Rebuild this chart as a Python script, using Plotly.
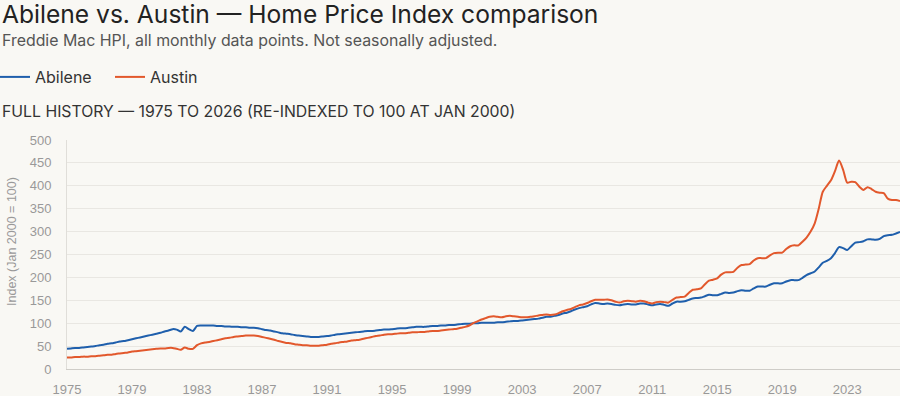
import pandas as pd
import plotly.graph_objects as go

# Quarterly readings (Jan, Apr, Jul, Oct), 1975 Q1 .. 2026 Q2
abilene = [
    44, 45, 46, 46,  47, 48, 49, 50,  52, 53, 55, 56,  58, 60, 61, 63,   # 1975-1978
    65, 67, 69, 71,  73, 75, 77, 79,  82, 84, 87, 86,  82, 92, 87, 83,   # 1979-1982
    94, 95, 95, 95,  95, 94, 94, 93,  93, 92, 92, 91,  91, 90, 90, 89,   # 1983-1986
    87, 85, 84, 82,  80, 78, 77, 76,  74, 73, 72, 71,  70, 70, 70, 71,   # 1987-1990
    72, 73, 75, 76,  77, 78, 79, 80,  81, 82, 83, 83,  84, 85, 86, 86,   # 1991-1994
    87, 88, 89, 89,  90, 91, 92, 92,  92, 93, 94, 94,  95, 95, 96, 96,   # 1995-1998
    97, 98, 99, 99,  100, 100, 101, 101,  101, 101, 102, 102,  103, 104, 105, 105,  # 1999-2002
    106, 107, 108, 109,  110, 112, 114, 114,  116, 118, 121, 123,  126, 130, 133, 135,  # 2003-2006
    137, 141, 144, 143,  142, 143, 142, 140,  139, 141, 142, 141,  141, 143, 143, 141,  # 2007-2010
    139, 141, 142, 140,  138, 143, 147, 147,  148, 151, 154, 155,  156, 159, 162, 161,  # 2011-2014
    161, 164, 167, 166,  167, 170, 172, 171,  171, 176, 180, 180,  180, 184, 187, 187,  # 2015-2018
    187, 191, 194, 194,  194, 199, 205, 209,  213, 222, 232, 236,  242, 253, 266, 264,  # 2019-2022
    260, 268, 276, 277,  279, 283, 283, 282,  284, 290, 292, 293,  296, 299,            # 2023-2026
]
austin = [
    25, 25, 26, 26,  27, 27, 28, 28,  29, 30, 31, 31,  33, 34, 35, 36,   # 1975-1978
    38, 39, 40, 41,  42, 43, 44, 45,  45, 46, 46, 44,  42, 47, 44, 44,   # 1979-1982
    52, 56, 58, 59,  61, 63, 65, 67,  68, 70, 71, 72,  73, 73, 73, 72,   # 1983-1986
    70, 68, 66, 64,  61, 59, 57, 56,  54, 53, 52, 52,  51, 51, 51, 52,   # 1987-1990
    53, 55, 56, 58,  59, 60, 62, 63,  64, 66, 68, 70,  72, 73, 75, 76,   # 1991-1994
    76, 77, 78, 78,  79, 80, 80, 81,  81, 82, 83, 83,  84, 85, 86, 87,   # 1995-1998
    88, 90, 92, 95,  100, 104, 108, 111,  114, 115, 114, 113,  115, 116, 115, 114,  # 1999-2002
    113, 113, 114, 115,  117, 118, 119, 118,  119, 122, 126, 129,  131, 135, 139, 141,  # 2003-2006
    144, 148, 151, 151,  151, 152, 150, 147,  145, 148, 149, 148,  147, 149, 148, 145,  # 2007-2010
    143, 146, 147, 146,  145, 151, 156, 157,  158, 166, 173, 174,  176, 185, 193, 195,  # 2011-2014
    198, 206, 211, 211,  212, 221, 227, 228,  229, 237, 242, 242,  242, 248, 253, 254,  # 2015-2018
    254, 262, 268, 270,  270, 278, 287, 300,  318, 350, 387, 400,  412, 432, 455, 435,  # 2019-2022
    407, 409, 408, 398,  391, 397, 393, 387,  385, 384, 372, 369,  369, 367,            # 2023-2026
]
dates = pd.date_range("1975-01-01", periods=len(abilene), freq="QS")

y_ticks = [0, 50, 100, 150, 200, 250, 300, 350, 400, 450, 500]

title = "Abilene vs. Austin — Home Price Index comparison"
subtitle = "Freddie Mac HPI, all monthly data points. Not seasonally adjusted."
section = "FULL HISTORY — 1975 TO 2026 (RE-INDEXED TO 100 AT JAN 2000)"
y_title = "Index (Jan 2000 = 100)"

BLUE = "#1f5fac"
RED = "#e2582c"
BG = "#f9f8f4"

fig = go.Figure()
fig.add_trace(go.Scatter(x=dates, y=abilene, mode="lines", name="Abilene",
                         line=dict(color=BLUE, width=2, shape="spline", smoothing=0.7)))
fig.add_trace(go.Scatter(x=dates, y=austin, mode="lines", name="Austin",
                         line=dict(color=RED, width=2, shape="spline", smoothing=0.7)))

L, R, T, B = 67, 0, 140, 27
W, H = 900, 396
pw, ph = W - L - R, H - T - B

def px_x(x):
    return (x - L) / pw

def px_y(y):
    return (H - B - y) / ph

fig.update_layout(
    width=W, height=H,
    margin=dict(l=L, r=R, t=T, b=B, autoexpand=False),
    paper_bgcolor=BG, plot_bgcolor=BG,
    font=dict(family="Inter, Liberation Sans, sans-serif", color="#999"),
    showlegend=True,
    legend=dict(orientation="h", x=px_x(-5), xanchor="left", y=px_y(77), yanchor="middle",
                font=dict(size=16, color="#333", family="Inter"), bgcolor="rgba(0,0,0,0)",
                itemwidth=30, entrywidth=70, entrywidthmode="pixels"),
    xaxis=dict(type="date", range=[dates[0], dates[-1]], tick0="1975-01-01", dtick="M48",
               tickformat="%Y", showgrid=False, showline=True, linecolor="#cfcdc8",
               linewidth=1, ticks="", ticklabelstandoff=8, automargin=False,
               tickfont=dict(size=13, color="#999", family="Liberation Sans")),
    yaxis=dict(range=[0, 500], tickvals=y_ticks, showgrid=True, gridcolor="#e9e7e2",
               gridwidth=1, zeroline=False, showline=True, linecolor="#e0ded9",
               ticks="", ticklabelstandoff=12, automargin=False,
               tickfont=dict(size=13, color="#999", family="Liberation Sans")),
    annotations=[
        dict(text=title, xref="paper", yref="paper", x=px_x(0), y=px_y(14), xanchor="left",
             yanchor="middle", showarrow=False, font=dict(size=24.6, color="#222", family="Inter")),
        dict(text=subtitle, xref="paper", yref="paper", x=px_x(0), y=px_y(40), xanchor="left",
             yanchor="middle", showarrow=False, font=dict(size=15.9, color="#555", family="Inter")),
        dict(text=section, xref="paper", yref="paper", x=px_x(0), y=px_y(112), xanchor="left",
             yanchor="middle", showarrow=False, font=dict(size=15.8, color="#333", family="Inter")),
        dict(text=y_title, xref="paper", yref="paper", x=px_x(12), y=px_y(242), xanchor="center",
             yanchor="middle", textangle=-90, showarrow=False,
             font=dict(size=12.5, color="#999", family="Liberation Sans")),
    ],
)

fig.write_html("out.html", config={"displayModeBar": False},
               post_script="document.body.style.margin='0';document.body.style.background='%s';" % BG)
